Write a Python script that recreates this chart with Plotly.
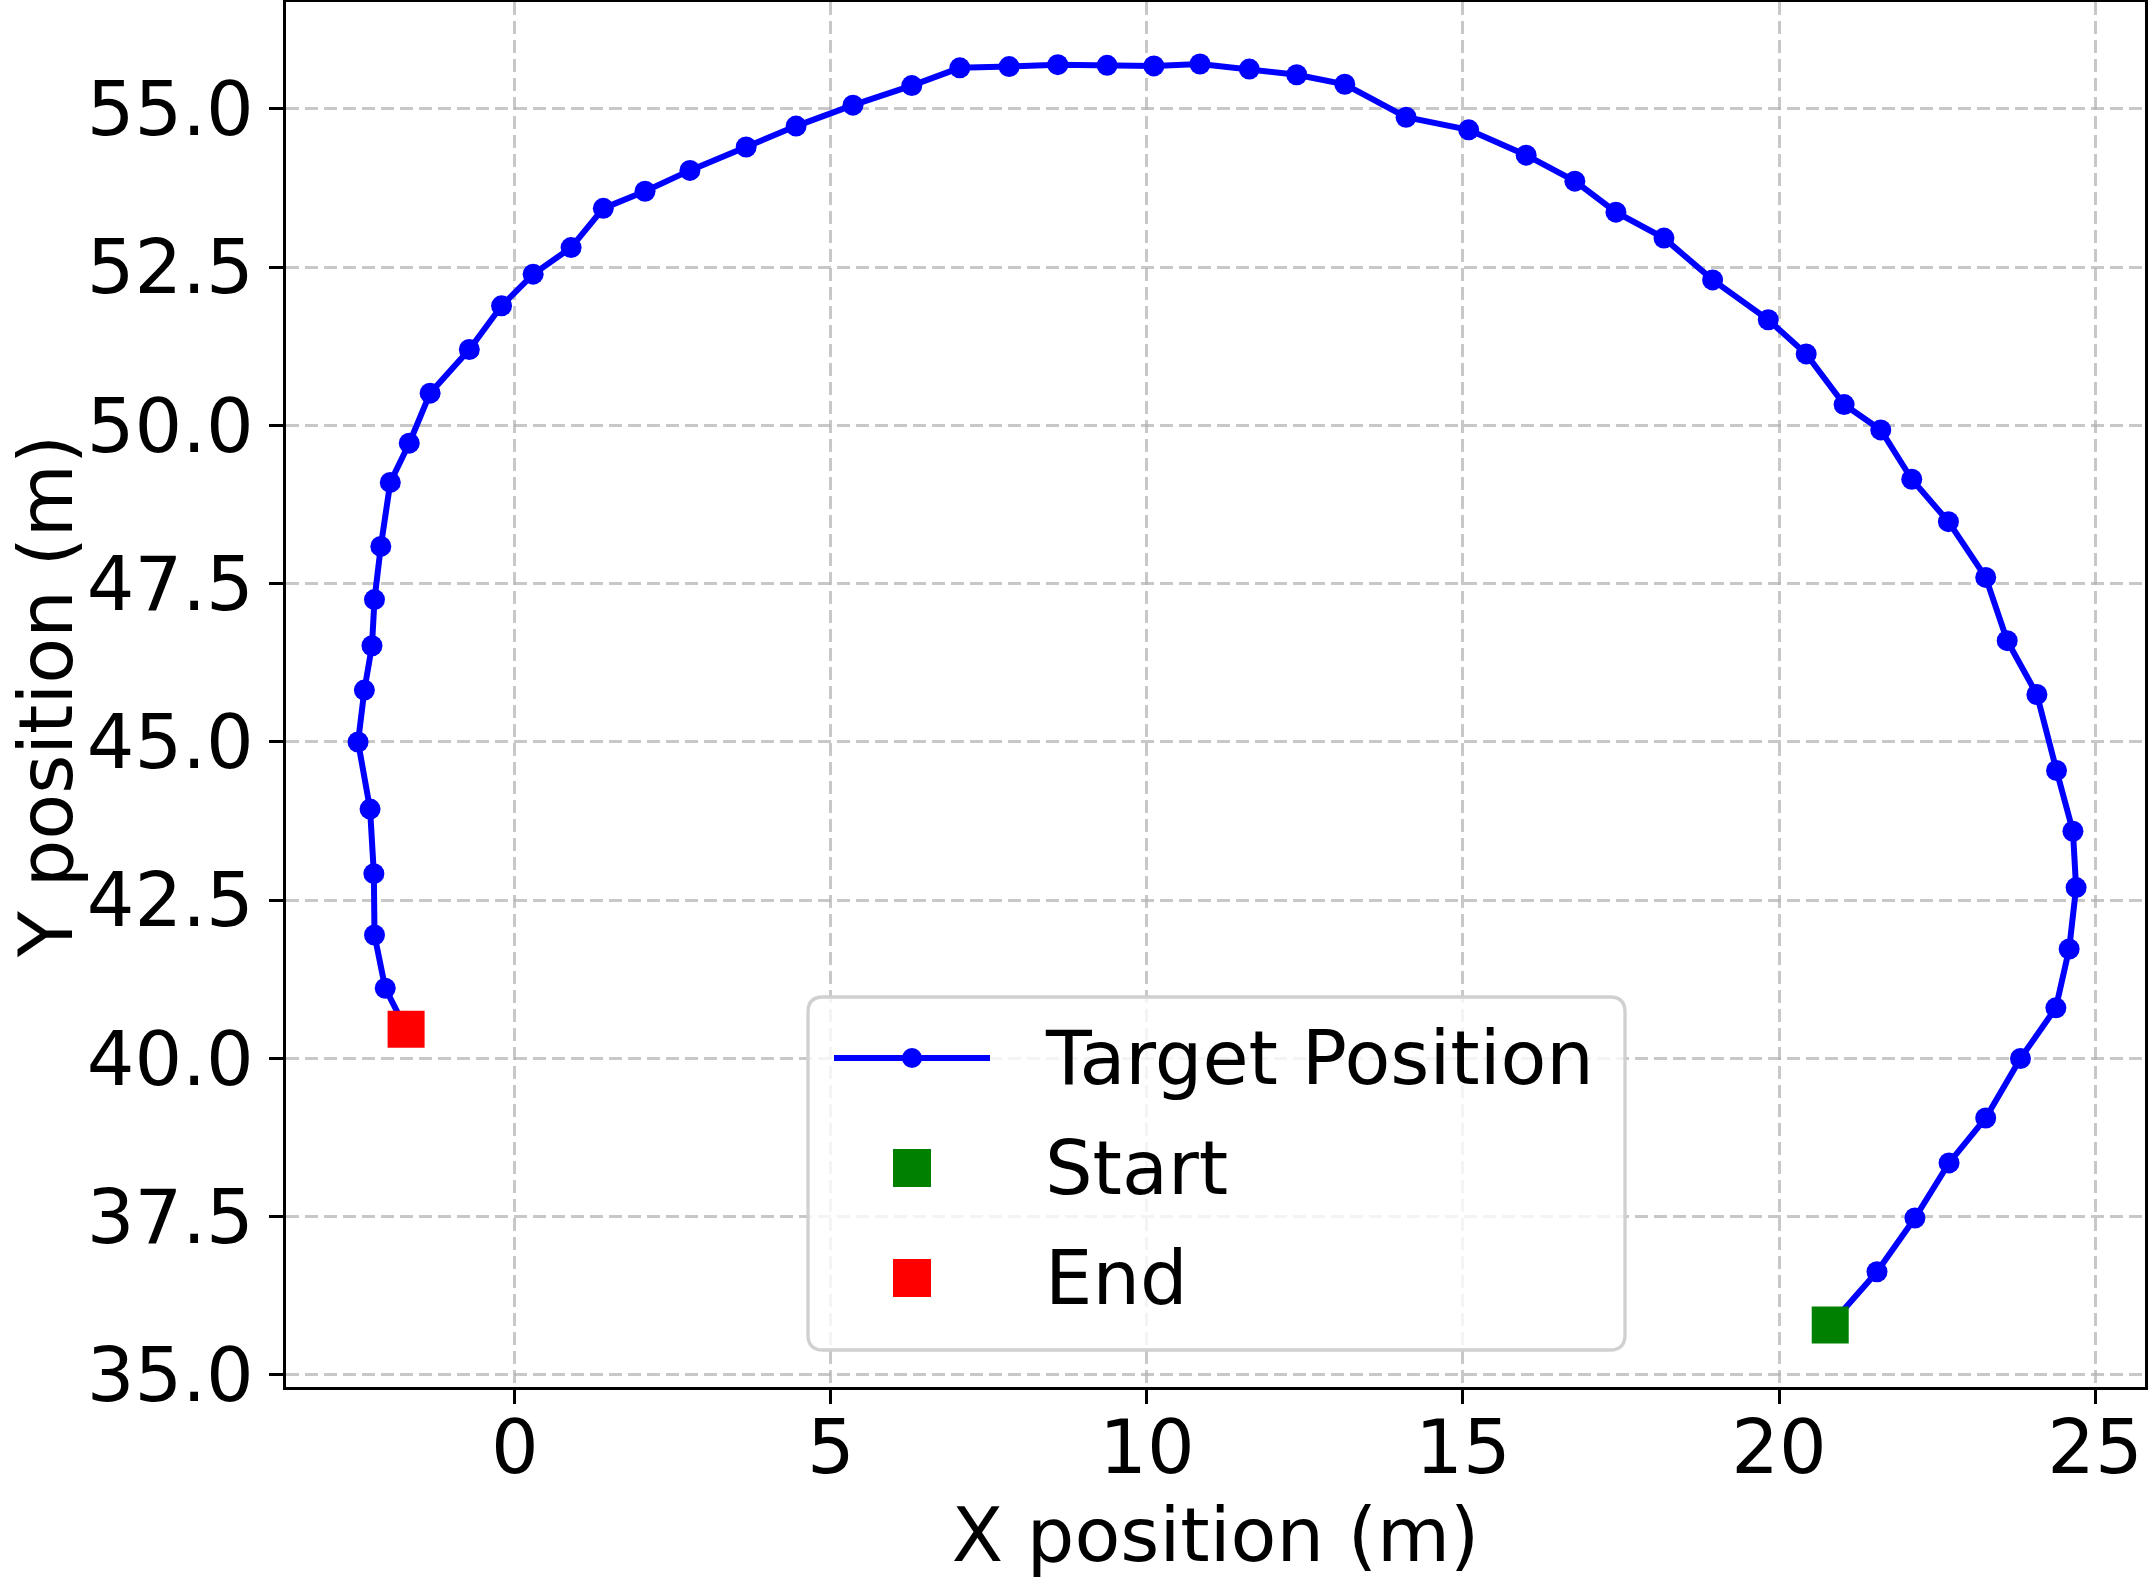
import plotly.graph_objects as go

# Trajectory data (metres)
x_pos = [20.81, 21.55, 22.15, 22.69, 23.27, 23.82, 24.38, 24.59, 24.70, 24.65,
         24.39, 24.08, 23.61, 23.27, 22.68, 22.10, 21.61, 21.03, 20.43, 19.83,
         18.95, 18.18, 17.42, 16.77, 16.00, 15.09, 14.10, 13.13, 12.37, 11.62,
         10.84, 10.11, 9.37, 8.59, 7.82, 7.04, 6.28, 5.35, 4.45, 3.66,
         2.77, 2.06, 1.40, 0.89, 0.29, -0.21, -0.72, -1.34, -1.67, -1.97,
         -2.12, -2.22, -2.26, -2.38, -2.48, -2.29, -2.23, -2.22, -2.05, -1.72]
y_pos = [35.79, 36.63, 37.48, 38.35, 39.06, 40.00, 40.80, 41.73, 42.70, 43.59,
         44.55, 45.75, 46.60, 47.60, 48.48, 49.15, 49.93, 50.33, 51.13, 51.67,
         52.30, 52.96, 53.37, 53.86, 54.27, 54.67, 54.87, 55.39, 55.54, 55.63,
         55.71, 55.68, 55.69, 55.70, 55.67, 55.65, 55.37, 55.06, 54.73, 54.40,
         54.03, 53.70, 53.43, 52.81, 52.39, 51.89, 51.20, 50.51, 49.72, 49.10,
         48.09, 47.25, 46.52, 45.82, 45.00, 43.94, 42.92, 41.95, 41.11, 40.46]

x_ticks = [0, 5, 10, 15, 20, 25]
y_ticks = [35.0, 37.5, 40.0, 42.5, 45.0, 47.5, 50.0, 52.5, 55.0]

legend_names = ["Target Position", "Start", "End"]
x_title = "X position (m)"
y_title = "Y position (m)"
BLUE, GREEN, RED = "#0000ff", "#008000", "#ff0000"

FONT = "DejaVu Sans"
FS = 75
W, H = 2148, 1579
ML, MR, MT, MB = 286, 3, 2, 192
PW, PH = W - ML - MR, H - MT - MB


def px(xp):
    return (xp - ML) / PW


def py(yp):
    return (H - MB - yp) / PH


fig = go.Figure()
fig.add_trace(go.Scatter(
    x=x_pos, y=y_pos, mode="lines+markers", name=legend_names[0],
    line=dict(color=BLUE, width=6),
    marker=dict(color=BLUE, size=21, symbol="circle"), showlegend=False))
fig.add_trace(go.Scatter(
    x=[x_pos[0]], y=[y_pos[0]], mode="markers", name=legend_names[1],
    marker=dict(color=GREEN, size=37, symbol="square"), showlegend=False))
fig.add_trace(go.Scatter(
    x=[x_pos[-1]], y=[y_pos[-1]], mode="markers", name=legend_names[2],
    marker=dict(color=RED, size=37, symbol="square"), showlegend=False))

axis_common = dict(
    showline=True, linecolor="black", linewidth=3.3, mirror=True,
    ticks="outside", ticklen=14, tickwidth=3.3, tickcolor="black",
    showgrid=True, gridcolor="rgba(176,176,176,0.7)", gridwidth=3,
    griddash="13px,6px", zeroline=False,
    tickfont=dict(family=FONT, size=FS, color="black"),
)

# ---- legend (drawn as a framed box, matplotlib style) ----
bx0, bx1, by0, by1, r = 808, 1625, 997, 1350, 15
rx, ry = r / PW, r / PH
X0, X1, Y0, Y1 = px(bx0), px(bx1), py(by1), py(by0)
box_path = (f"M{X0+rx},{Y0} L{X1-rx},{Y0} Q{X1},{Y0} {X1},{Y0+ry} "
            f"L{X1},{Y1-ry} Q{X1},{Y1} {X1-rx},{Y1} L{X0+rx},{Y1} "
            f"Q{X0},{Y1} {X0},{Y1-ry} L{X0},{Y0+ry} Q{X0},{Y0} {X0+rx},{Y0} Z")
shapes = [dict(type="path", xref="paper", yref="paper", path=box_path,
               fillcolor="rgba(255,255,255,0.8)",
               line=dict(color="#d0d0d0", width=3.3))]
rows = [1058, 1168, 1278]
kx = 912
shapes.append(dict(type="line", xref="paper", yref="paper",
                   x0=px(834), x1=px(990), y0=py(rows[0]), y1=py(rows[0]),
                   line=dict(color=BLUE, width=6)))
shapes.append(dict(type="circle", xref="paper", yref="paper",
                   x0=px(kx - 10), x1=px(kx + 10), y0=py(rows[0] + 10), y1=py(rows[0] - 10),
                   fillcolor=BLUE, line=dict(color=BLUE, width=0)))
for rr, col in zip(rows[1:], [GREEN, RED]):
    shapes.append(dict(type="rect", xref="paper", yref="paper",
                       x0=px(kx - 19), x1=px(kx + 19), y0=py(rr + 19), y1=py(rr - 19),
                       fillcolor=col, line=dict(width=0)))
annotations = [dict(text=name, xref="paper", yref="paper", x=px(1043), y=py(rr),
                    xanchor="left", yanchor="middle", showarrow=False,
                    font=dict(family=FONT, size=FS, color="black"))
               for name, rr in zip(legend_names, rows)]
# y-axis title placed near the figure's left edge
annotations.append(dict(text=y_title, xref="paper", yref="paper",
                        x=px(46), y=py(697), xanchor="center", yanchor="middle",
                        textangle=-90, showarrow=False, borderpad=0,
                        font=dict(family=FONT, size=FS, color="black")))

fig.update_layout(
    width=W, height=H,
    margin=dict(l=ML, r=MR, t=MT, b=MB, autoexpand=False),
    paper_bgcolor="white", plot_bgcolor="white",
    font=dict(family=FONT, size=FS, color="black"),
    xaxis=dict(range=[-3.62, 25.79], tickvals=x_ticks,
               ticktext=[str(v) for v in x_ticks], ticklabelstandoff=-21,
               title=dict(text=x_title, font=dict(family=FONT, size=FS), standoff=30),
               **axis_common),
    yaxis=dict(range=[34.81, 56.69], tickvals=y_ticks,
               ticktext=[f"{v:.1f}" for v in y_ticks],
               **axis_common),
    shapes=shapes, annotations=annotations,
    showlegend=False,
)

fig.write_html("out.html")
